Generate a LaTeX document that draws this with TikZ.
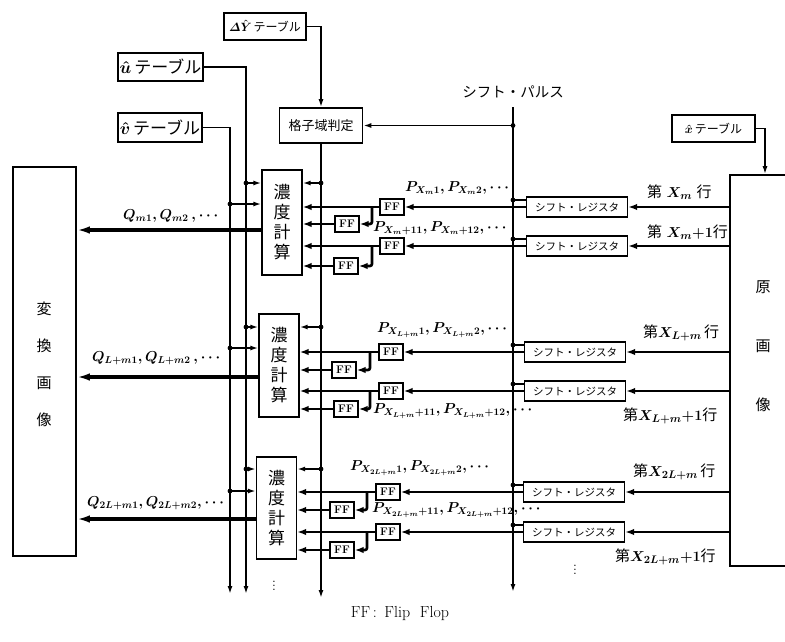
\documentclass[tikz,border=0pt]{standalone}
\usepackage{fontspec}
\usepackage{amsmath}
\newfontfamily\jpfont{Noto Sans CJK JP}
\usetikzlibrary{arrows.meta}
\tikzset{
  tablebox/.style={draw, line width=1.6pt, inner sep=0pt},
  ffnode/.style={draw, line width=1.3pt, minimum width=24pt, minimum height=16pt, inner sep=0pt, font=\bfseries\fontsize{11}{11}\selectfont},
  srnode/.style={draw, line width=1.4pt, minimum width=101pt, minimum height=20pt, inner sep=0pt, font=\jpfont\fontsize{10.5}{11}\selectfont},
  densnode/.style={draw, line width=1.3pt, minimum width=40pt, inner sep=0pt, align=center, font=\jpfont\fontsize{17}{20}\selectfont},
  vline/.style={line width=1.6pt},
  dline/.style={line width=2.6pt},
  qln/.style={line width=3.4pt},
  atip/.style={-{Latex[length=8pt,width=5pt]}},
  btip/.style={-{Latex[length=9pt,width=6.5pt]}},
  ctip/.style={-{Latex[length=13pt,width=7.5pt]}},
  jdot/.style={circle, fill, inner sep=0pt, minimum size=4.8pt},
  plab/.style={inner sep=0pt, font=\fontsize{14}{14}\selectfont},
  rlab/.style={inner sep=0pt, font=\fontsize{15}{15}\selectfont}
}
\begin{document}
\begin{tikzpicture}[x=1pt,y=-1pt]
\useasboundingbox (0,0) rectangle (785,641);

% ---------- tables and top blocks
\node[tablebox, minimum width=82pt, minimum height=27pt, font=\fontsize{12}{12}\selectfont] (dyt) at (265,26.5) {$\boldsymbol{\varDelta\hat{Y}}$\,{\jpfont テーブル}};
\node[tablebox, minimum width=85pt, minimum height=28pt, font=\fontsize{17}{17}\selectfont] (ut) at (160.5,67) {$\boldsymbol{\hat{u}}$\,{\jpfont テーブル}};
\node[tablebox, minimum width=84pt, minimum height=29pt, font=\fontsize{17}{17}\selectfont] (vt) at (160,127.5) {$\boldsymbol{\hat{v}}$\,{\jpfont テーブル}};
\node[tablebox, minimum width=83pt, minimum height=35pt, font=\jpfont\fontsize{13}{13}\selectfont] (kaku) at (321,125.5) {格子域判定};
\node[tablebox, minimum width=83pt, minimum height=27pt, font=\fontsize{12}{12}\selectfont] (xt) at (713.5,128.5) {$\boldsymbol{\hat{x}}$\,{\jpfont テーブル}};

\node[inner sep=0pt, font=\jpfont\fontsize{14.5}{15}\selectfont] (ptext) at (513,92) {シフト・パルス};

% ---------- big boxes
\node[tablebox, minimum width=70pt, minimum height=391pt] (orig) at (765,370.5) {};
\node[tablebox, minimum width=63pt, minimum height=389pt] (conv) at (44.5,361.5) {};
\node[align=center, inner sep=0pt, font=\jpfont\fontsize{15}{37}\selectfont] (convt) at (44,364.5) {変\\換\\画\\像};
\node[align=center, inner sep=0pt, font=\jpfont\fontsize{15}{59}\selectfont] (origt) at (763,346) {原\\画\\像};

% ---------- vertical buses
\coordinate (vbot) at (230,594);
\coordinate (ubot) at (246,594);
\coordinate (dbot) at (321,598);
\coordinate (ptop) at (513,107);
\coordinate (pbot) at (513,592);
\draw[vline,atip] (vt.east) -| (vbot);
\draw[vline,atip] (ut.east) -| (ubot);
\draw[vline,atip] (dyt.east) -| (kaku.north);
\draw[vline,atip] (kaku.south) -- (dbot);
\draw[vline,atip] (ptop) -- (pbot);
\draw[vline,atip] (ptop |- kaku.east) node[jdot]{} -- (kaku.east);
\draw[vline,atip] (xt.east) -| (orig.north);

% ================= block 1
\node[densnode, minimum height=105pt] (d1) at (282,222.5) {濃\\度\\計\\算};
\node[srnode] (s1) at (577,207) {シフト・レジスタ};
\node[srnode] (s2) at (577,246) {シフト・レジスタ};
\node[ffnode] (fa1) at (392,207) {FF};
\node[ffnode] (fb1) at (347,224) {FF};
\node[ffnode] (fc1) at (392,246) {FF};
\node[ffnode] (fd1) at (346,266) {FF};
\coordinate (ja1) at (372,207);
\coordinate (jc1) at (372,246);
\coordinate (t1) at (321,183);
\coordinate (u1) at (246,183);
\coordinate (v1) at (230,204);
\coordinate (q1) at (230,230);
\coordinate (c1) at ([yshift=7pt]s1.west);
\coordinate (c2) at ([yshift=7pt]s2.west);
\draw[dline,btip] (orig.west |- s1.east) -- (s1.east);
\draw[dline,btip] (orig.west |- s2.east) -- (s2.east);
\draw[dline,btip] (s1.west) -- (fa1.east);
\draw[dline,btip] (s2.west) -- (fc1.east);
\draw[dline,btip] (fa1.west) -- (fa1.west -| d1.east);
\draw[dline,btip] (fc1.west) -- (fc1.west -| d1.east);
\draw[dline,btip,rounded corners=2pt] (ja1) |- (fb1.east);
\draw[dline,btip,rounded corners=2pt] (jc1) |- (fd1.east);
\draw[dline,btip] (fb1.west) -- (fb1.west -| d1.east);
\draw[dline,btip] (fd1.west) -- (fd1.west -| d1.east);
\draw[vline] (ptop |- c1) node[jdot]{} -- (c1);
\draw[vline] (ptop |- c2) node[jdot]{} -- (c2);
\draw[vline,atip] (t1) node[jdot]{} -- (t1 -| d1.east);
\draw[vline,atip] (u1) node[jdot]{} -- (u1 -| d1.west);
\draw[vline,atip] (v1) node[jdot]{} -- (v1 -| d1.west);
\draw[qln,ctip] (q1 -| d1.west) -- (q1 -| conv.east);
\node[plab, anchor=west] (pl1) at (405,188) {$\boldsymbol{P_{X_m1},P_{X_m2},\cdots}$};
\node[plab, anchor=west] (pl2) at (373,228) {$\boldsymbol{P_{X_m+11},P_{X_m+12},\cdots}$};
\node[plab, anchor=west] (ql1) at (123,216) {$\boldsymbol{Q_{m1},Q_{m2}\,,\cdots}$};
\node[rlab, anchor=west] (rl1) at (647,192) {{\jpfont 第} $\boldsymbol{X_m}$ {\jpfont 行}};
\node[rlab, anchor=west] (rl2) at (647,232) {{\jpfont 第} $\boldsymbol{X_m{+}1}${\jpfont 行}};

% ================= block 2
\node[densnode, minimum height=103pt] (d2) at (279,365.5) {濃\\度\\計\\算};
\node[srnode] (s3) at (575,352) {シフト・レジスタ};
\node[srnode] (s4) at (575,391) {シフト・レジスタ};
\node[ffnode] (fa2) at (391,352) {FF};
\node[ffnode] (fb2) at (344,370) {FF};
\node[ffnode] (fc2) at (391,391) {FF};
\node[ffnode] (fd2) at (346,409) {FF};
\coordinate (ja2) at (370,352);
\coordinate (jc2) at (370,391);
\coordinate (t2) at (321,327);
\coordinate (u2) at (246,327);
\coordinate (v2) at (230,348);
\coordinate (q2) at (230,377);
\coordinate (c3) at ([yshift=7pt]s3.west);
\coordinate (c4) at ([yshift=7pt]s4.west);
\draw[dline,btip] (orig.west |- s3.east) -- (s3.east);
\draw[dline,btip] (orig.west |- s4.east) -- (s4.east);
\draw[dline,btip] (s3.west) -- (fa2.east);
\draw[dline,btip] (s4.west) -- (fc2.east);
\draw[dline,btip] (fa2.west) -- (fa2.west -| d2.east);
\draw[dline,btip] (fc2.west) -- (fc2.west -| d2.east);
\draw[dline,btip,rounded corners=2pt] (ja2) |- (fb2.east);
\draw[dline,btip,rounded corners=2pt] (jc2) |- (fd2.east);
\draw[dline,btip] (fb2.west) -- (fb2.west -| d2.east);
\draw[dline,btip] (fd2.west) -- (fd2.west -| d2.east);
\draw[vline] (ptop |- c3) node[jdot]{} -- (c3);
\draw[vline] (ptop |- c4) node[jdot]{} -- (c4);
\draw[vline,atip] (t2) node[jdot]{} -- (t2 -| d2.east);
\draw[vline,atip] (u2) node[jdot]{} -- (u2 -| d2.west);
\draw[vline,atip] (v2) node[jdot]{} -- (v2 -| d2.west);
\draw[qln,ctip] (q2 -| d2.west) -- (q2 -| conv.east);
\node[plab, anchor=west] (pl3) at (377,330) {$\boldsymbol{P_{X_{L+m}1},P_{X_{L+m}2},\cdots}$};
\node[plab, anchor=west] (pl4) at (373,411) {$\boldsymbol{P_{X_{L+m}+11},P_{X_{L+m}+12},\cdots}$};
\node[plab, anchor=west] (ql2) at (92,358) {$\boldsymbol{Q_{L+m1},Q_{L+m2}\,,\cdots}$};
\node[rlab, anchor=west] (rl3) at (643,333) {{\jpfont 第}$\boldsymbol{X_{L+m}}\,${\jpfont 行}};
\node[rlab, anchor=west] (rl4) at (623,416) {{\jpfont 第}$\boldsymbol{X_{L+m}{+}1}${\jpfont 行}};

% ================= block 3
\node[densnode, minimum height=102pt] (d3) at (276.5,508) {濃\\度\\計\\算};
\node[srnode] (s5) at (574,492) {シフト・レジスタ};
\node[srnode] (s6) at (574,532) {シフト・レジスタ};
\node[ffnode] (fa3) at (388,492) {FF};
\node[ffnode] (fb3) at (342,510) {FF};
\node[ffnode] (fc3) at (388,532) {FF};
\node[ffnode] (fd3) at (342,550) {FF};
\coordinate (ja3) at (367,492);
\coordinate (jc3) at (367,532);
\coordinate (t3) at (321,469);
\coordinate (u3) at (246,469);
\coordinate (v3) at (230,491);
\coordinate (q3) at (230,519);
\coordinate (c5) at ([yshift=7pt]s5.west);
\coordinate (c6) at ([yshift=7pt]s6.west);
\draw[dline,btip] (orig.west |- s5.east) -- (s5.east);
\draw[dline,btip] (orig.west |- s6.east) -- (s6.east);
\draw[dline,btip] (s5.west) -- (fa3.east);
\draw[dline,btip] (s6.west) -- (fc3.east);
\draw[dline,btip] (fa3.west) -- (fa3.west -| d3.east);
\draw[dline,btip] (fc3.west) -- (fc3.west -| d3.east);
\draw[dline,btip,rounded corners=2pt] (ja3) |- (fb3.east);
\draw[dline,btip,rounded corners=2pt] (jc3) |- (fd3.east);
\draw[dline,btip] (fb3.west) -- (fb3.west -| d3.east);
\draw[dline,btip] (fd3.west) -- (fd3.west -| d3.east);
\draw[vline] (ptop |- c5) node[jdot]{} -- (c5);
\draw[vline] (ptop |- c6) node[jdot]{} -- (c6);
\draw[vline,atip] (t3) node[jdot]{} -- (t3 -| d3.east);
\draw[vline,atip] (u3) node[jdot]{} -- (u3 -| d3.west);
\draw[vline,atip] (v3) node[jdot]{} -- (v3 -| d3.west);
\draw[qln,ctip] (q3 -| d3.west) -- (q3 -| conv.east);
\node[plab, anchor=west] (pl5) at (350,468) {$\boldsymbol{P_{X_{2L+m}1},P_{X_{2L+m}2},\cdots}$};
\node[plab, anchor=west] (pl6) at (372,510) {$\boldsymbol{P_{X_{2L+m}+11},P_{X_{2L+m}+12},\cdots}$};
\node[plab, anchor=west] (ql3) at (87,503) {$\boldsymbol{Q_{2L+m1},Q_{2L+m2},\cdots}$};
\node[rlab, anchor=west] (rl5) at (633,472) {{\jpfont 第}$\boldsymbol{X_{2L+m}}\,${\jpfont 行}};
\node[rlab, anchor=west] (rl6) at (615,557) {{\jpfont 第}$\boldsymbol{X_{2L+m}{+}1}${\jpfont 行}};

% ---------- continuation dots and caption
\node[inner sep=0pt, font=\fontsize{14}{14}\selectfont] (vd1) at (274,583) {$\vdots$};
\node[inner sep=0pt, font=\fontsize{14}{14}\selectfont] (vd2) at (575,567) {$\vdots$};
\node[inner sep=0pt, font=\fontsize{16}{16}\selectfont] (cap) at (400,613) {FF\,:\ \,Flip\ \ Flop};
\end{tikzpicture}
\end{document}
